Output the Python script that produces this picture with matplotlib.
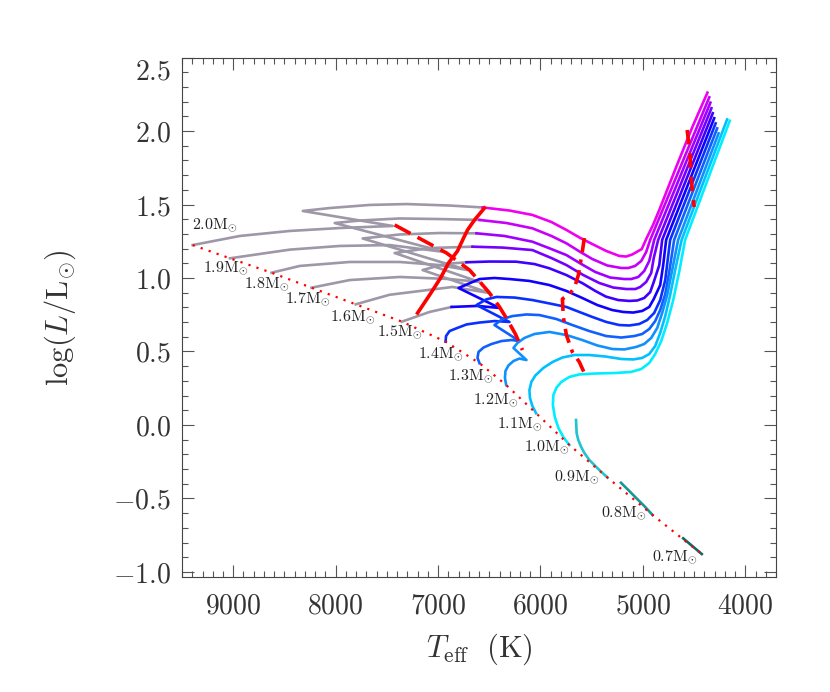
import matplotlib
matplotlib.use('Agg')
import matplotlib.pyplot as plt
from matplotlib.ticker import MultipleLocator, FuncFormatter
from matplotlib.transforms import ScaledTranslation

plt.rcParams['mathtext.fontset'] = 'cm'
plt.rcParams['font.family'] = ['DejaVu Serif']

# zero-age main sequence, one point per mass
masses = ['2.0', '1.9', '1.8', '1.7', '1.6', '1.5', '1.4', '1.3', '1.2', '1.1', '1.0', '0.9', '0.8', '0.7']
zams_t = [9396, 9032, 8626, 8236, 7804, 7353, 6927, 6595, 6335, 6043, 5718, 5345, 4906, 4425]
zams_l = [1.224, 1.134, 1.036, 0.934, 0.821, 0.703, 0.567, 0.420, 0.272, 0.080, -0.136, -0.358, -0.612, -0.878]

# where the mass labels sit
label_t = [9178, 9073, 8675, 8269, 7830, 7375, 6973, 6676, 6433, 6198, 5937, 5645, 5190, 4687]
label_l = [1.361, 1.068, 0.956, 0.857, 0.731, 0.629, 0.483, 0.333, 0.170, 0.007, -0.148, -0.352, -0.601, -0.901]

# gray parts of the tracks (main sequence + hook)
g20_t = [9396, 8935, 8447, 7960, 7443, 8321, 8057, 7668, 7307, 6888, 6566]
g20_l = [1.224, 1.286, 1.320, 1.340, 1.354, 1.456, 1.476, 1.497, 1.503, 1.493, 1.480]
g19_t = [9032, 8447, 7960, 7473, 6937, 8009, 7765, 7375, 6985, 6595]
g19_l = [1.134, 1.193, 1.218, 1.224, 1.177, 1.374, 1.391, 1.405, 1.401, 1.395]
g18_t = [8626, 8350, 7863, 7375, 6985, 6712, 7736, 7375, 6985, 6625]
g18_l = [1.036, 1.082, 1.109, 1.109, 1.088, 1.054, 1.269, 1.296, 1.306, 1.304]
g17_t = [8236, 7863, 7375, 6888, 6596, 7424, 7083, 6664]
g17_l = [0.934, 0.986, 1.007, 0.993, 0.973, 1.170, 1.204, 1.213]
g16_t = [7804, 7473, 6859, 6498, 7151, 6937, 6722]
g16_l = [0.821, 0.886, 0.939, 0.898, 1.054, 1.095, 1.107]
g15_t = [7353, 7083, 6868]
g15_l = [0.703, 0.769, 0.803]

# coloured parts
c20_t = [6566, 6303, 6079, 5894, 5747, 5611, 5494, 5358, 5231, 5163, 5104, 5011, 4968, 4901, 4840, 4675, 4517, 4370]
c20_l = [1.480, 1.459, 1.429, 1.381, 1.327, 1.272, 1.231, 1.184, 1.150, 1.146, 1.160, 1.197, 1.265, 1.361, 1.463, 1.755, 2.027, 2.261]
c19_t = [6595, 6332, 6079, 5894, 5747, 5611, 5494, 5348, 5212, 5143, 5076, 5016, 4968, 4929, 4352]
c19_l = [1.395, 1.374, 1.338, 1.286, 1.236, 1.177, 1.129, 1.085, 1.068, 1.068, 1.082, 1.116, 1.177, 1.259, 2.229]
c18_t = [6625, 6352, 6079, 5894, 5747, 5601, 5465, 5319, 5182, 5114, 5045, 4987, 4938, 4890, 4341]
c18_l = [1.304, 1.286, 1.247, 1.197, 1.156, 1.095, 1.041, 1.003, 0.993, 0.993, 1.007, 1.048, 1.116, 1.259, 2.193]
c17_t = [6664, 6371, 6079, 5894, 5747, 5582, 5426, 5289, 5163, 5073, 5026, 4968, 4919, 4894, 4851, 4331]
c17_l = [1.213, 1.207, 1.190, 1.136, 1.088, 1.020, 0.966, 0.935, 0.925, 0.925, 0.939, 0.973, 1.034, 1.136, 1.259, 2.155]
c16_t = [6722, 6498, 6238, 6059, 5913, 5747, 5589, 5465, 5360, 5241, 5133, 5055, 4987, 4929, 4894, 4840, 4812, 4318]
c16_l = [1.107, 1.112, 1.111, 1.095, 1.066, 1.020, 0.964, 0.912, 0.873, 0.850, 0.844, 0.847, 0.864, 0.904, 0.973, 1.088, 1.259, 2.121]
c15_t = [6868, 6615, 6400, 6800, 6595, 6449, 6303, 6108, 5913, 5747, 5592, 5445, 5299, 5192, 5094, 5006, 4938,
         4894, 4831, 4802, 4773, 4304]
c15_l = [0.803, 0.810, 0.796, 0.932, 0.993, 1.000, 0.993, 0.980, 0.952, 0.912, 0.864, 0.816, 0.782, 0.769, 0.765, 0.776, 0.803,
         0.857, 0.952, 1.088, 1.259, 2.087]
c14_t = [6927, 6922, 6888, 6820, 6722, 6595, 6449, 6303, 6625, 6527, 6430, 6254, 6079, 5913, 5747, 5621, 5494, 5358,
         5231, 5133, 5036, 4958, 4890, 4831, 4782, 4734, 4290]
c14_l = [0.567, 0.605, 0.639, 0.658, 0.684, 0.697, 0.707, 0.701, 0.816, 0.855, 0.871, 0.867, 0.850, 0.827, 0.803, 0.769, 0.735, 0.701,
         0.680, 0.677, 0.687, 0.714, 0.762, 0.850, 0.986, 1.259, 2.052]
c13_t = [6595, 6615, 6605, 6556, 6478, 6381, 6283, 6206, 6449, 6371, 6274, 6137, 6011, 5845, 5689, 5523, 5358, 5211,
         5085, 5007, 4938, 4880, 4831, 4782, 4743, 4695, 4275]
c13_l = [0.420, 0.456, 0.497, 0.527, 0.551, 0.571, 0.578, 0.571, 0.680, 0.721, 0.741, 0.752, 0.748, 0.721, 0.680, 0.639, 0.605, 0.595,
         0.605, 0.619, 0.653, 0.707, 0.782, 0.891, 1.041, 1.259, 2.018]
c12_t = [6335, 6347, 6342, 6313, 6264, 6206, 6137, 6264, 6225, 6157, 6059, 5913, 5747, 5592, 5445, 5299, 5182, 5065,
         4987, 4919, 4860, 4812, 4763, 4714, 4656, 4261]
c12_l = [0.272, 0.320, 0.367, 0.405, 0.435, 0.452, 0.442, 0.524, 0.558, 0.592, 0.619, 0.633, 0.612, 0.578, 0.541, 0.517, 0.514, 0.531,
         0.551, 0.592, 0.660, 0.762, 0.884, 1.054, 1.259, 1.984]
c11_t = [6043, 6079, 6103, 6108, 6089, 6050, 5972, 5881, 5786, 5669, 5523, 5367, 5211, 5094, 5007, 4938, 4880, 4831,
         4782, 4734, 4685, 4622, 4178]
c11_l = [0.080, 0.129, 0.184, 0.238, 0.293, 0.337, 0.388, 0.429, 0.459, 0.476, 0.476, 0.466, 0.449, 0.446, 0.456, 0.483, 0.537, 0.626,
         0.741, 0.884, 1.054, 1.259, 2.079]
c10_t = [5718, 5777, 5825, 5860, 5879, 5874, 5845, 5796, 5718, 5621, 5475, 5260, 5114, 5016, 4938, 4880, 4821, 4763,
         4704, 4646, 4588, 4152]
c10_l = [-0.136, -0.082, -0.020, 0.054, 0.136, 0.204, 0.253, 0.293, 0.327, 0.344, 0.350, 0.354, 0.361, 0.381, 0.422, 0.483, 0.571, 0.694,
         0.850, 1.041, 1.259, 2.070]
c09_t = [5345, 5426, 5484, 5523, 5572, 5604, 5631, 5647, 5653]
c09_l = [-0.358, -0.306, -0.265, -0.238, -0.190, -0.148, -0.102, -0.056, 0.034]
c08_t = [4906, 4987, 5065, 5143, 5214]
c08_l = [-0.612, -0.551, -0.497, -0.442, -0.393]
c07_t = [4425, 4607]
c07_l = [-0.878, -0.771]

# red marker lines
solid_t = [7200, 7083, 6976, 6898, 6810, 6751, 6712, 6644, 6547]
solid_l = [0.762, 0.884, 1.000, 1.102, 1.184, 1.272, 1.327, 1.395, 1.476]
turnoff_t = [7424, 6917, 6693, 6615, 6498, 6400, 6322, 6245, 6176]
turnoff_l = [1.361, 1.170, 1.054, 0.993, 0.898, 0.803, 0.714, 0.619, 0.510]
sgb_t = [5572, 5592, 5630, 5669, 5718, 5786, 5777, 5747, 5689, 5621, 5572]
sgb_l = [1.272, 1.177, 1.020, 0.932, 0.891, 0.857, 0.735, 0.612, 0.497, 0.429, 0.354]
rgb_t = [4568, 4539, 4529, 4500]
rgb_l = [2.007, 1.837, 1.680, 1.483]

gray = '#9e97a8'
colors = ['#f000f0', '#c800f8', '#a000ff', '#7400ff', '#4000ff', '#1000ff', '#0a30ff',
          '#1060ff', '#1090ff', '#00c0ff', '#00eeff', '#20c4cc', '#14989a', '#0c6a6a']

fig = plt.figure(figsize=(8.3, 6.92), dpi=100)
ax = fig.add_axes([0.2193, 0.1662, 0.7157, 0.7507])

lw = 1.9
for t, l in [(g20_t, g20_l), (g19_t, g19_l), (g18_t, g18_l), (g17_t, g17_l),
             (g16_t, g16_l), (g15_t, g15_l)]:
    ax.plot(t, l, color=gray, lw=lw, solid_joinstyle='round', zorder=2)

tracks = [(c20_t, c20_l), (c19_t, c19_l), (c18_t, c18_l), (c17_t, c17_l),
          (c16_t, c16_l), (c15_t, c15_l), (c14_t, c14_l), (c13_t, c13_l),
          (c12_t, c12_l), (c11_t, c11_l), (c10_t, c10_l), (c09_t, c09_l),
          (c08_t, c08_l), (c07_t, c07_l)]
for (t, l), c in zip(tracks, colors):
    ax.plot(t, l, color=c, lw=lw, solid_joinstyle='round', zorder=3)

# ZAMS
ax.plot(zams_t, zams_l, color='red', lw=1.6, linestyle=(0, (1, 2.8)), zorder=5)

ax.plot(solid_t, solid_l, color='red', lw=2.6, zorder=6)
ax.plot(turnoff_t, turnoff_l, color='red', lw=2.6, linestyle=(0, (5, 2.2)), zorder=6)
ax.plot(sgb_t, sgb_l, color='red', lw=2.6, linestyle=(0, (4, 2, 1, 2)), zorder=6)
ax.plot(rgb_t, rgb_l, color='red', lw=2.6, linestyle=(0, (4, 2.5)), zorder=6)

for m, t, l in zip(masses, label_t, label_l):
    ax.text(t, l, r'$%s{\rm M}_{\odot}$' % m, fontsize=11.5, color='#222222',
            ha='center', va='center', zorder=7)

ax.set_xlim(9500, 3700)
ax.set_ylim(-1.034, 2.5)
ax.xaxis.set_major_locator(MultipleLocator(1000))
ax.xaxis.set_minor_locator(MultipleLocator(100))
ax.yaxis.set_major_locator(MultipleLocator(0.5))
ax.yaxis.set_minor_locator(MultipleLocator(0.1))
ax.xaxis.set_major_formatter(FuncFormatter(lambda v, p: r'$%d$' % v))
ax.yaxis.set_major_formatter(FuncFormatter(lambda v, p: r'$%.1f$' % v))

ax.tick_params(which='both', direction='in', top=True, right=True,
               color='#555555', width=0.8, labelcolor='#333333')
ax.tick_params(which='major', length=8.5, labelsize=20)
ax.tick_params(axis='x', which='major', pad=11)
ax.tick_params(axis='y', which='major', pad=8)
ax.tick_params(which='minor', length=4)
for s in ax.spines.values():
    s.set_color('#444444')
    s.set_linewidth(0.8)

ax.set_xlabel(r'$T_{\rm eff}\ \ ({\rm K})$', fontsize=22, color='#333333')
ax.set_ylabel(r'$\log(L/{\rm L}_{\odot})$', fontsize=22, color='#333333')
ax.xaxis.set_label_coords(0.5, -0.105)
ax.yaxis.set_label_coords(-0.175, 0.5)

# the top y label sits a little below its tick, as in the original
fig.canvas.draw()
for tick in ax.yaxis.get_major_ticks():
    if abs(tick.get_loc() - 2.5) < 1e-6:
        tick.label1.set_transform(tick.label1.get_transform()
                                  + ScaledTranslation(0, -0.11, fig.dpi_scale_trans))

fig.savefig('out.png', dpi=100)
